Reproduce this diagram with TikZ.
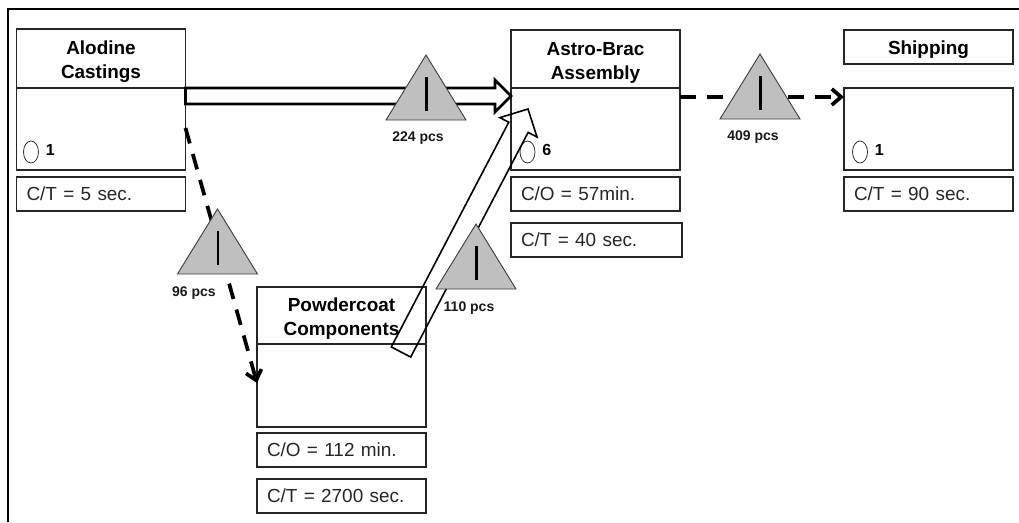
\documentclass[tikz,border=0pt]{standalone}
\usepackage{fontspec}
\setmainfont{Liberation Sans}
\usepackage{tikz}
\usetikzlibrary{positioning, shapes.geometric, arrows.meta, calc}

% hollow push arrow: start, tip, shaft half width, barb half width, head length
\newcommand{\pusharrow}[6]{
	\coordinate (headbase) at ($(#2)!#5!(#1)$);
	\draw[#6] ($(#1)!#3!90:(#2)$) -- ($(headbase)!#3!90:(#2)$) -- ($(headbase)!#4!90:(#2)$) -- (#2)
		-- ($(headbase)!#4!-90:(#2)$) -- ($(headbase)!#3!-90:(#2)$) -- ($(#1)!#3!-90:(#2)$) -- cycle;
}

\begin{document}
\begin{tikzpicture}[
		x=0.75pt, y=-0.75pt,
		frame/.style={draw=black, line width=1.6pt},
		process/.style={draw=black!85, line width=0.8pt, anchor=north west, minimum width=126.75pt, inner sep=0pt, outer sep=0pt},
		title/.style={process, align=center, font=\bfseries\fontsize{14.2}{18}\selectfont, text height=33pt},
		databox/.style={process, minimum height=25.5pt, text width=111.75pt, inner xsep=7.5pt, align=left, font=\fontsize{14.2}{18}\selectfont, text=black!85},
		operator/.style={ellipse, draw=black!80, line width=0.6pt, minimum width=11.25pt, minimum height=16.5pt, inner sep=0pt},
		opcount/.style={font=\bfseries\fontsize{12}{14}\selectfont, inner sep=0pt},
		pull/.style={line width=2.8pt, draw=black, dash pattern=on 12pt off 8.2pt, -{Straight Barb[length=7pt, width=12pt]}},
		pushthick/.style={draw=black, line width=2pt, miter limit=10},
		pushthin/.style={draw=black, line width=1.2pt, miter limit=10},
		stock/.style={fill=black!25, draw=black!75, line width=0.7pt, line join=miter},
		stockbar/.style={draw=black, line width=1.7pt},
		stocklabel/.style={font=\bfseries\fontsize{10.5}{12}\selectfont, inner sep=0pt, text=black!90}
		]
		\useasboundingbox (0,0) rectangle (1019,522);
		\draw[frame] (8,522) -- (8,9) -- (1019,9);
		
		% Alodine
		\node[title, minimum height=44.25pt] (alodine) at (16.5,29) {Alodine\\Castings};
		\node[process, minimum height=61.5pt] (alodinebody) at (16.5,88) {};
		\node[databox] (alodinect) at (16.5,177) {C/T = 5 sec.};
		\node[operator] (alodineop) at (31,152) {};
		\node[opcount, right=5pt of alodineop, yshift=1.5pt] (alodinecount) {1};
		
		% Astro-Brac
		\node[title, minimum height=43.5pt] (astro) at (511,30) {Astro-Brac\\Assembly};
		\node[process, minimum height=61.5pt] (astrobody) at (511,88) {};
		\node[databox] (astroco) at (511,177) {C/O = 57min.};
		\node[databox, minimum width=128.25pt, text width=113.25pt] (astroct) at (511,223) {C/T = 40 sec.};
		\node[operator] (astroop) at (527.5,152) {};
		\node[opcount, right=5pt of astroop, yshift=1.5pt] (astrocount) {6};
		
		% Shipping
		\node[title, minimum height=25.5pt, text height=14.5pt] (shipping) at (844,30) {Shipping};
		\node[process, minimum height=61.5pt] (shippingbody) at (844,88) {};
		\node[databox] (shippingct) at (844,177) {C/T = 90 sec.};
		\node[operator] (shippingop) at (860,152) {};
		\node[opcount, right=5pt of shippingop, yshift=1.5pt] (shippingcount) {1};
		
		% Powdercoat
		\node[title, minimum height=42.75pt] (powder) at (257,287) {Powdercoat\\Components};
		\node[process, minimum height=62.25pt] (powderbody) at (257,344) {};
		\node[databox] (powderco) at (257,433) {C/O = 112 min.};
		\node[databox] (powderct) at (257,479) {C/T = 2700 sec.};
		
		% Material flow
		\pusharrow{$(alodinebody.north east)+(0,8)$}{$(astrobody.north west)+(0,8)$}{6pt}{12pt}{12pt}{pushthick}
		\pusharrow{$(powderbody.north east)+(-25,8)$}{$(astrobody.north west)+(17,21)$}{8.2pt}{15.7pt}{15.5pt}{pushthin}
		\draw[pull] ($(alodinebody.north east)+(0,40)$) -- ($(powderbody.north west)+(0,39)$);
		\draw[pull] ($(astrobody.north east)+(0,9)$) -- ($(shippingbody.north west)+(0,9)$);
		
		% Inventory triangles
		\foreach \name/\x/\y/\lx/\ly/\qty in {a/426/55/418/138/224, b/760/54/753/137/409, c/217.5/209/194/293/96, d/476/224/469/308/110}{
			\coordinate (stock\name) at (\x,\y);
			\draw[stock] (stock\name) -- ++(-40,65) -- ++(80,0) -- cycle;
			\draw[stockbar] ($(stock\name)+(0.5,22)$) -- ($(stock\name)+(0.5,56)$);
			\node[stocklabel] (label\name) at (\lx,\ly) {\qty{} pcs};
		}
\end{tikzpicture}
\end{document}
